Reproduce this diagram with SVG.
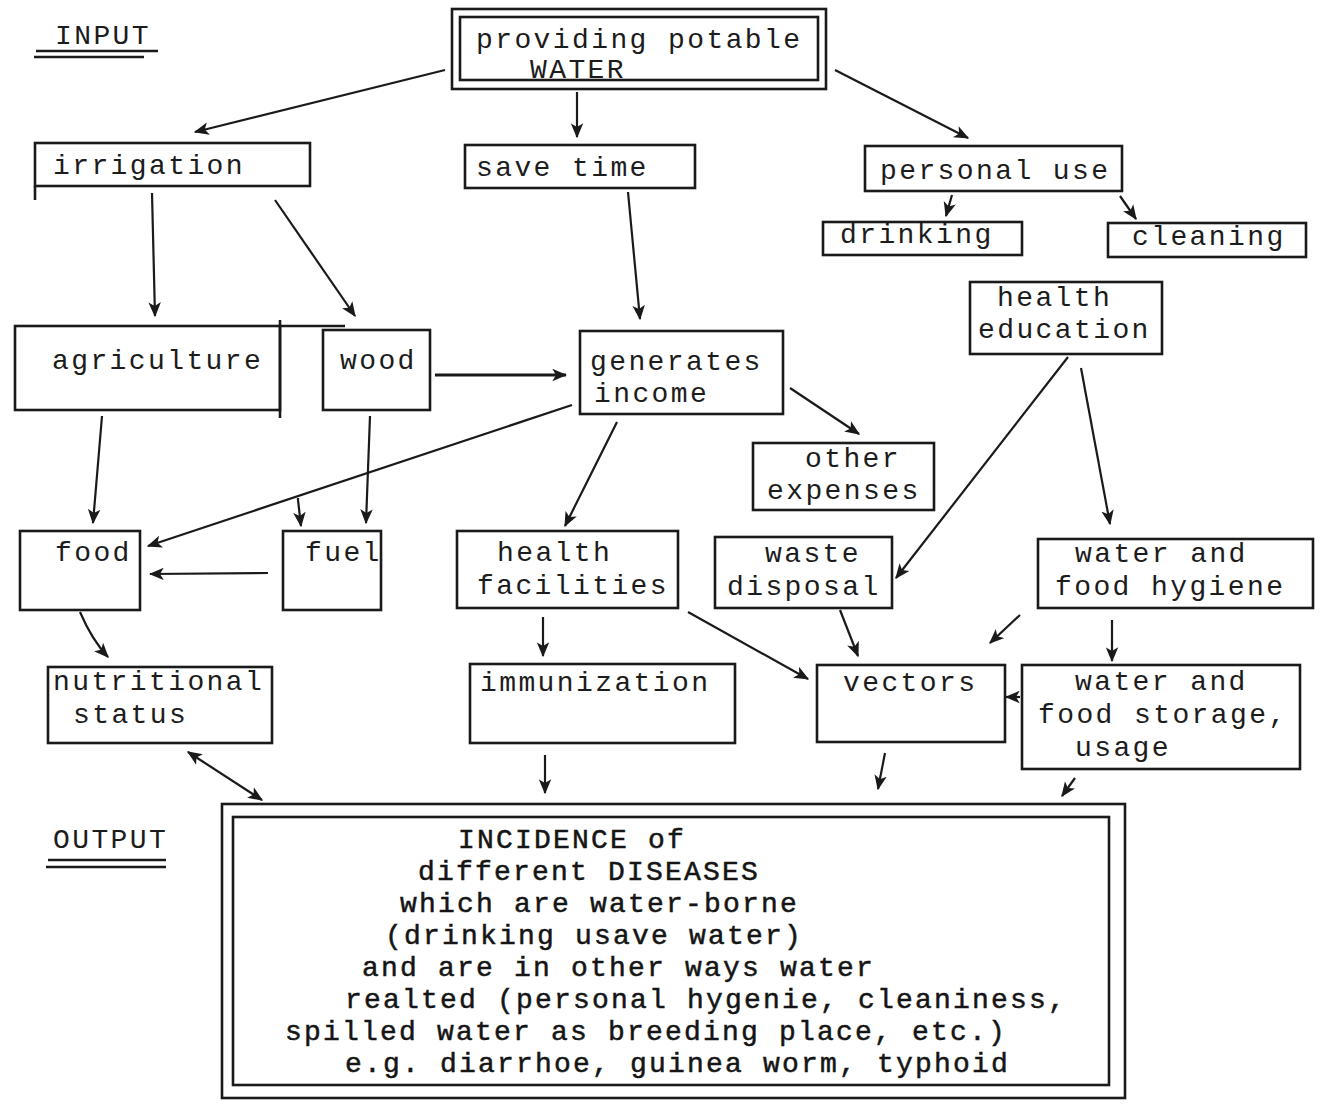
<svg xmlns="http://www.w3.org/2000/svg" width="1327" height="1116" viewBox="0 0 1327 1116">
<style>
.t{font-family:"Liberation Mono","DejaVu Sans Mono",monospace;font-size:28px;letter-spacing:2.4px;fill:#1c1c1c}
.b{font-family:"Liberation Mono","DejaVu Sans Mono",monospace;font-size:28px;letter-spacing:2.2px;fill:#151515;stroke:#151515;stroke-width:0.5}
.box{fill:none;stroke:#1a1a1a;stroke-width:2.6}
.c{fill:none;stroke:#1a1a1a;stroke-width:2.2}
.u{stroke:#1a1a1a;stroke-width:2.6}
</style>
<defs>
<marker id="ah" viewBox="0 0 12 10" refX="11" refY="5" markerWidth="15" markerHeight="13" markerUnits="userSpaceOnUse" orient="auto-start-reverse">
<path d="M0,0 L12,5 L0,10 L3,5 z" fill="#1a1a1a"/>
</marker>
</defs>
<rect width="1327" height="1116" fill="#ffffff"/>

<g id="label-input">
<text class="t" x="55" y="44">INPUT</text>
<line class="u" x1="36" y1="51" x2="158" y2="51"/>
<line class="u" x1="34" y1="57" x2="144" y2="57"/>
</g>
<g id="label-output">
<text class="t" x="53" y="848">OUTPUT</text>
<line class="u" x1="48" y1="860" x2="166" y2="860"/>
<line class="u" x1="46" y1="867" x2="166" y2="867"/>
</g>

<g id="node-water">
<rect class="box" x="452" y="9" width="374" height="80"/>
<rect class="box" x="460" y="17" width="358" height="63"/>
<text class="t" x="476" y="48">providing potable</text>
<text class="t" x="530" y="78">WATER</text>
</g>
<g id="node-irrigation">
<rect class="box" x="35" y="143" width="275" height="43"/>
<line class="u" x1="35" y1="186" x2="35" y2="200"/>
<text class="t" x="53" y="174">irrigation</text>
</g>
<g id="node-savetime">
<rect class="box" x="465" y="145" width="230" height="43"/>
<text class="t" x="476" y="176">save time</text>
</g>
<g id="node-personal">
<rect class="box" x="865" y="146" width="257" height="45"/>
<text class="t" x="880" y="179">personal use</text>
</g>
<g id="node-drinking">
<rect class="box" x="823" y="222" width="199" height="33"/>
<text class="t" x="840" y="243">drinking</text>
</g>
<g id="node-cleaning">
<rect class="box" x="1108" y="223" width="198" height="34"/>
<text class="t" x="1132" y="245">cleaning</text>
</g>
<g id="node-healthedu">
<rect class="box" x="970" y="282" width="192" height="72"/>
<text class="t" x="997" y="306">health</text>
<text class="t" x="978" y="338">education</text>
</g>
<g id="node-agriculture">
<rect class="box" x="15" y="326" width="265" height="84"/>
<line class="u" x1="280" y1="320" x2="280" y2="418"/>
<line class="u" x1="280" y1="326" x2="345" y2="326"/>
<text class="t" x="52" y="369">agriculture</text>
</g>
<g id="node-wood">
<rect class="box" x="323" y="330" width="107" height="80"/>
<text class="t" x="340" y="369">wood</text>
</g>
<g id="node-income">
<rect class="box" x="580" y="331" width="203" height="83"/>
<text class="t" x="590" y="370">generates</text>
<text class="t" x="594" y="402">income</text>
</g>
<g id="node-otherexp">
<rect class="box" x="753" y="443" width="181" height="67"/>
<text class="t" x="805" y="467">other</text>
<text class="t" x="767" y="499">expenses</text>
</g>
<g id="node-food">
<rect class="box" x="20" y="531" width="120" height="79"/>
<text class="t" x="55" y="561">food</text>
</g>
<g id="node-fuel">
<rect class="box" x="283" y="531" width="98" height="79"/>
<text class="t" x="305" y="561">fuel</text>
</g>
<g id="node-healthfac">
<rect class="box" x="457" y="531" width="221" height="77"/>
<text class="t" x="497" y="561">health</text>
<text class="t" x="477" y="594">facilities</text>
</g>
<g id="node-waste">
<rect class="box" x="715" y="537" width="177" height="71"/>
<text class="t" x="765" y="562">waste</text>
<text class="t" x="727" y="595">disposal</text>
</g>
<g id="node-hygiene">
<rect class="box" x="1038" y="539" width="275" height="69"/>
<text class="t" x="1075" y="562">water and</text>
<text class="t" x="1055" y="595">food hygiene</text>
</g>
<g id="node-nutrition">
<rect class="box" x="48" y="667" width="224" height="76"/>
<text class="t" x="53" y="690">nutritional</text>
<text class="t" x="73" y="723">status</text>
</g>
<g id="node-immunization">
<rect class="box" x="470" y="664" width="265" height="79"/>
<text class="t" x="480" y="691">immunization</text>
</g>
<g id="node-vectors">
<rect class="box" x="817" y="665" width="188" height="77"/>
<text class="t" x="843" y="691">vectors</text>
</g>
<g id="node-storage">
<rect class="box" x="1022" y="665" width="278" height="104"/>
<text class="t" x="1075" y="690">water and</text>
<text class="t" x="1038" y="723">food storage,</text>
<text class="t" x="1075" y="756">usage</text>
</g>
<g id="node-incidence">
<rect class="box" x="222" y="804" width="903" height="294"/>
<rect class="box" x="233" y="817" width="876" height="268"/>
<text class="b" x="458" y="848">INCIDENCE of</text>
<text class="b" x="418" y="880">different DISEASES</text>
<text class="b" x="400" y="912">which are water-borne</text>
<text class="b" x="385" y="944">(drinking usave water)</text>
<text class="b" x="362" y="976">and are in other ways water</text>
<text class="b" x="345" y="1008">realted (personal hygenie, cleaniness,</text>
<text class="b" x="285" y="1040">spilled water as breeding place, etc.)</text>
<text class="b" x="345" y="1072">e.g. diarrhoe, guinea worm, typhoid</text>
</g>

<g id="connectors" marker-end="url(#ah)">
<line class="c" x1="445" y1="70" x2="195" y2="132"/>
<line class="c" x1="577" y1="92" x2="577" y2="137"/>
<line class="c" x1="835" y1="70" x2="968" y2="138"/>
<line class="c" x1="952" y1="195" x2="946" y2="216"/>
<line class="c" x1="1120" y1="196" x2="1136" y2="219"/>
<line class="c" x1="152" y1="193" x2="155" y2="316"/>
<line class="c" x1="275" y1="200" x2="355" y2="316"/>
<line class="c" x1="628" y1="192" x2="640" y2="319"/>
<line class="c" x1="435" y1="375" x2="566" y2="375" style="stroke-width:3"/>
<line class="c" x1="790" y1="388" x2="859" y2="434"/>
<line class="c" x1="572" y1="405" x2="148" y2="546"/>
<polyline class="c" points="298,498 298,500 301,526"/>
<line class="c" x1="370" y1="416" x2="366" y2="523"/>
<line class="c" x1="102" y1="416" x2="93" y2="523"/>
<line class="c" x1="268" y1="573" x2="150" y2="574"/>
<line class="c" x1="617" y1="422" x2="565" y2="526"/>
<line class="c" x1="1068" y1="357" x2="896" y2="578"/>
<line class="c" x1="1081" y1="368" x2="1110" y2="524"/>
<path class="c" d="M80,612 Q92,640 108,657"/>
<line class="c" x1="543" y1="617" x2="543" y2="656"/>
<line class="c" x1="688" y1="612" x2="808" y2="679"/>
<line class="c" x1="840" y1="610" x2="858" y2="656"/>
<line class="c" x1="1020" y1="615" x2="990" y2="643"/>
<line class="c" x1="1112" y1="620" x2="1112" y2="661"/>
<line class="c" x1="1020" y1="697" x2="1006" y2="697"/>
<line class="c" x1="188" y1="752" x2="262" y2="800" marker-start="url(#ah)"/>
<line class="c" x1="545" y1="755" x2="545" y2="793"/>
<line class="c" x1="885" y1="753" x2="878" y2="789"/>
<line class="c" x1="1075" y1="778" x2="1062" y2="796"/>
</g>
</svg>
